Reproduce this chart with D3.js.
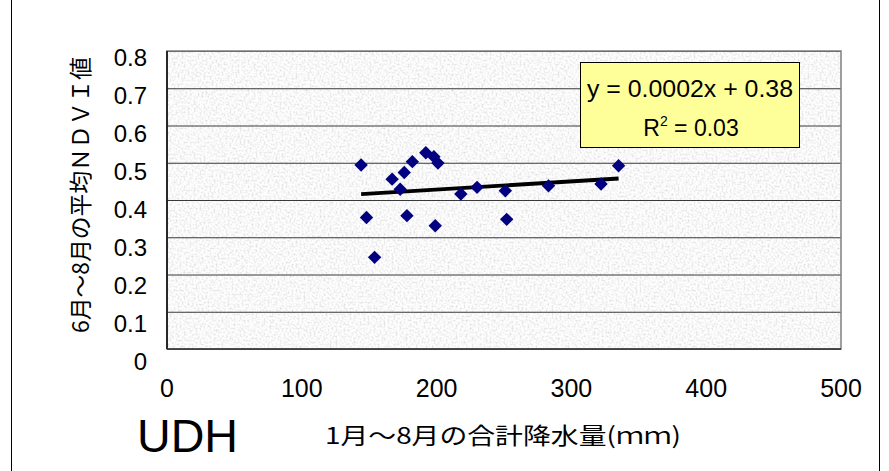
<!DOCTYPE html>
<html>
<head>
<meta charset="utf-8">
<script src="https://cdn.jsdelivr.net/npm/d3@7"></script>
<style>
  body { margin: 0; background: #ffffff; }
  svg { display: block; }
  text { font-family: "Liberation Sans", Arial, sans-serif; fill: #000; }
  .cjk { font-family: "Noto Sans CJK JP", "Liberation Sans", sans-serif; }
</style>
</head>
<body>
<svg id="chart" width="889" height="471"></svg>
<script>

// data
var rainfall = [144, 192, 198, 201, 182, 176, 167, 173, 218, 230, 148, 178, 199, 154, 251, 252, 283, 322, 335];
var ndvi = [0.494, 0.527, 0.516, 0.499, 0.503, 0.474, 0.456, 0.429, 0.416, 0.434, 0.353, 0.358, 0.331, 0.246, 0.425, 0.348, 0.438, 0.443, 0.492];

var xTicks = [0, 100, 200, 300, 400, 500];
var yTicks = [0, 0.1, 0.2, 0.3, 0.4, 0.5, 0.6, 0.7, 0.8];

// linear trend as drawn
var trendSlope = 0.00022;
var trendIntercept = 0.384;
var trendLabel = "y = 0.0002x + 0.38";
var r2Label = "0.03";

var xTitle = "1月～8月の合計降水量(ｍｍ)";
var yTitle = "6月～8月の平均ＮＤＶＩ値";
var siteName = "UDH";


class ScatterChart {

    constructor(id) {
        this.svg = d3.select("#" + id);

        // plot area
        this.left = 167;
        this.right = 841;
        this.top = 51;
        this.bottom = 349;

        this.markerColor = "#000080";
    }

    setup() {
        this.x = d3.scaleLinear().domain([0, 500]).range([this.left, this.right]);
        this.y = d3.scaleLinear().domain([0, 0.8]).range([this.bottom, this.top]);

        this.drawFrame();
        this.drawPlotArea();
        this.drawAxes();
        this.drawTrend();
        this.drawPoints();
        this.drawLegend();
        this.drawTitles();
    }

    // only the side edges of the chart frame show in the crop
    drawFrame() {
        this.svg.append("rect")
            .attr("x", 11.5).attr("y", -2)
            .attr("width", 868).attr("height", 476)
            .attr("fill", "#fff")
            .attr("stroke", "#000")
            .attr("stroke-width", 1);
    }

    // grey granite fill of the plot area
    drawPlotArea() {
        var defs = this.svg.append("defs");
        var filter = defs.append("filter").attr("id", "granite")
            .attr("x", 0).attr("y", 0).attr("width", 1).attr("height", 1);
        filter.append("feTurbulence")
            .attr("type", "fractalNoise")
            .attr("baseFrequency", 0.5)
            .attr("numOctaves", 2)
            .attr("seed", 3);
        filter.append("feColorMatrix")
            .attr("type", "matrix")
            .attr("values",
                "0.6 0 0 0 0.64 " +
                "0.6 0 0 0 0.64 " +
                "0.6 0 0 0 0.64 " +
                "0 0 0 0 1");

        this.svg.append("rect")
            .attr("x", this.left).attr("y", this.top)
            .attr("width", this.right - this.left)
            .attr("height", this.bottom - this.top)
            .attr("fill", "#ececec")
            .attr("filter", "url(#granite)");
    }

    drawAxes() {
        var self = this;

        // horizontal grid lines
        var grid = this.svg.append("g")
            .attr("transform", "translate(" + this.left + ",0)")
            .call(d3.axisLeft(this.y).tickValues(yTicks).tickSize(-(this.right - this.left)).tickFormat(""));
        grid.select(".domain").remove();
        grid.selectAll("line").attr("stroke", "#3a3a3a").attr("stroke-width", 1.2);

        // plot border
        this.svg.append("rect")
            .attr("x", this.left).attr("y", this.top)
            .attr("width", this.right - this.left)
            .attr("height", this.bottom - this.top)
            .attr("fill", "none")
            .attr("stroke", "#808080")
            .attr("stroke-width", 1.5);

        this.svg.append("line")
            .attr("x1", this.left).attr("x2", this.left)
            .attr("y1", this.top).attr("y2", this.bottom)
            .attr("stroke", "#000").attr("stroke-width", 1.5);
        this.svg.append("line")
            .attr("x1", this.left).attr("x2", this.right)
            .attr("y1", this.bottom).attr("y2", this.bottom)
            .attr("stroke", "#333").attr("stroke-width", 1.5);

        // y tick labels
        this.svg.append("g").selectAll("text")
            .data(yTicks)
            .join("text")
            .attr("x", 147)
            .attr("y", function (d) { return self.y(d) + 7 + (0.8 - d) * 7.5; })
            .attr("dy", "0.35em")
            .attr("text-anchor", "end")
            .attr("font-size", 24)
            .text(function (d) { return d3.format("~g")(d); });

        // x tick labels
        this.svg.append("g").selectAll("text")
            .data(xTicks)
            .join("text")
            .attr("x", function (d) { return self.x(d); })
            .attr("y", 397)
            .attr("text-anchor", "middle")
            .attr("font-size", 25)
            .text(function (d) { return d; });
    }

    drawTrend() {
        var self = this;
        var ends = d3.extent(rainfall);
        var line = d3.line()
            .x(function (d) { return self.x(d); })
            .y(function (d) { return self.y(trendSlope * d + trendIntercept); });

        this.svg.append("path")
            .attr("d", line(ends))
            .attr("fill", "none")
            .attr("stroke", "#000")
            .attr("stroke-width", 3.8);
    }

    drawPoints() {
        var self = this;
        var diamond = d3.symbol().type(d3.symbolSquare).size(90);

        this.svg.append("g").selectAll("path")
            .data(rainfall)
            .join("path")
            .attr("d", diamond)
            .attr("transform", function (d, i) {
                return "translate(" + self.x(d) + "," + self.y(ndvi[i]) + ") rotate(45)";
            })
            .attr("fill", this.markerColor);
    }

    drawLegend() {
        var box = this.svg.append("g");

        box.append("rect")
            .attr("x", 580.5).attr("y", 62.5)
            .attr("width", 219).attr("height", 85)
            .attr("fill", "#ffff99")
            .attr("stroke", "#000")
            .attr("stroke-width", 1);

        box.append("text")
            .attr("x", 690).attr("y", 97)
            .attr("text-anchor", "middle")
            .attr("font-size", 23)
            .attr("textLength", 206)
            .attr("lengthAdjust", "spacingAndGlyphs")
            .text(trendLabel);

        var r2 = box.append("text")
            .attr("x", 691).attr("y", 136)
            .attr("text-anchor", "middle")
            .attr("font-size", 23);
        r2.append("tspan").text("R");
        r2.append("tspan").attr("font-size", 14).attr("dy", -10).text("2");
        r2.append("tspan").attr("dy", 10).text(" = " + r2Label);
    }

    drawTitles() {
        this.svg.append("text")
            .attr("class", "cjk")
            .attr("x", 325).attr("y", 444)
            .attr("font-size", 23)
            .attr("textLength", 356)
            .attr("lengthAdjust", "spacingAndGlyphs")
            .text(xTitle);

        this.svg.append("text")
            .attr("x", 137).attr("y", 452)
            .attr("font-size", 46)
            .attr("textLength", 101)
            .attr("lengthAdjust", "spacingAndGlyphs")
            .text(siteName);

        this.svg.append("text")
            .attr("class", "cjk")
            .attr("transform", "translate(89,195) rotate(-90)")
            .attr("text-anchor", "middle")
            .attr("font-size", 23)
            .attr("textLength", 276)
            .attr("lengthAdjust", "spacingAndGlyphs")
            .text(yTitle);
    }

}

var chart = new ScatterChart("chart");
chart.setup();

</script>
</body>
</html>
